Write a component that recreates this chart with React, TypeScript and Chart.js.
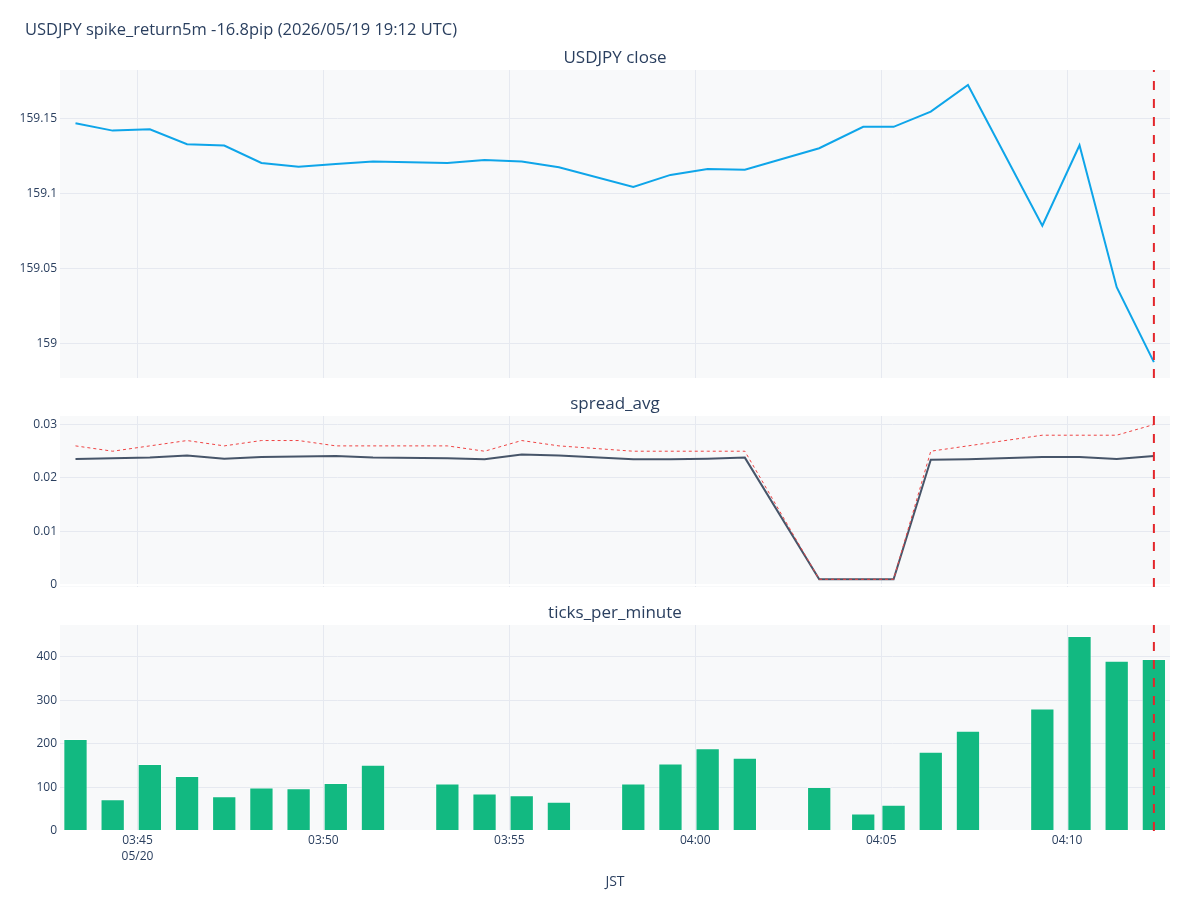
import React, { useEffect, useRef } from 'react';
import { Chart, registerables } from 'chart.js';

Chart.register(...registerables);

// ---------- data ----------
const MAIN_TITLE = 'USDJPY spike_return5m -16.8pip (2026/05/19 19:12 UTC)';
const PANEL_TITLES = ['USDJPY close', 'spread_avg', 'ticks_per_minute'];
const X_TITLE = 'JST';
const SPIKE_TIME = '04:12:20';
const X_RANGE = ['03:42:55', '04:12:46'];

const times = [
  '03:43:20', '03:44:20', '03:45:20', '03:46:20', '03:47:20', '03:48:20', '03:49:20',
  '03:50:20', '03:51:20', '03:53:20', '03:54:20', '03:55:20', '03:56:20', '03:58:20',
  '03:59:20', '04:00:20', '04:01:20', '04:03:20', '04:04:31', '04:05:20', '04:06:20',
  '04:07:20', '04:09:20', '04:10:20', '04:11:20', '04:12:20',
];

const closeValues = [
  159.1471, 159.1422, 159.1431, 159.1331, 159.1322, 159.1206, 159.1181,
  159.1199, 159.1215, 159.1205, 159.1226, 159.1216, 159.1177, 159.1046,
  159.1126, 159.1166, 159.1161, 159.1304, 159.1447, 159.1447, 159.1549,
  159.1727, 159.0787, 159.1324, 159.0376, 158.9875,
];

const spreadAvg = [
  0.02355, 0.0237, 0.0238, 0.0242, 0.0236, 0.0239, 0.024,
  0.0241, 0.0238, 0.0237, 0.0235, 0.0244, 0.0242, 0.0235,
  0.0235, 0.0236, 0.0238, 0.001, 0.001, 0.001, 0.0234,
  0.0235, 0.0239, 0.0239, 0.02355, 0.0241,
];

const spreadMax = [
  0.026, 0.025, 0.026, 0.027, 0.026, 0.027, 0.027,
  0.026, 0.026, 0.026, 0.025, 0.027, 0.026, 0.025,
  0.025, 0.025, 0.025, 0.001, 0.001, 0.001, 0.025,
  0.026, 0.028, 0.028, 0.028, 0.03,
];

const ticksPerMinute = [
  211, 73, 154, 126, 80, 100, 98,
  110, 152, 109, 86, 82, 67, 109,
  155, 190, 168, 101, 40, 60, 182,
  230, 281, 448, 391, 395,
];

const xTickTimes = ['03:45', '03:50', '03:55', '04:00', '04:05', '04:10'];
const xTickLabels: (string | string[])[] = [['03:45', '05/20'], '03:50', '03:55', '04:00', '04:05', '04:10'];

const closeTicks = [159, 159.05, 159.1, 159.15];
const closeTickLabels = ['159', '159.05', '159.1', '159.15'];
const closeRange = [158.9769, 159.1827];

const spreadTicks = [0, 0.01, 0.02, 0.03];
const spreadTickLabels = ['0', '0.01', '0.02', '0.03'];
const spreadRange = [-0.00045, 0.0316];

const tpmTicks = [0, 100, 200, 300, 400];
const tpmTickLabels = ['0', '100', '200', '300', '400'];
const tpmRange = [0, 473];

// ---------- styling ----------
const FONT = "'Open Sans', verdana, arial, sans-serif";
const TEXT_COLOR = '#2a3f5f';
const GRID_COLOR = '#e6e9f0';
const PLOT_BG = '#f8f9fa';
const W = 1200;
const H = 900;
const PANELS = [
  { top: 70, bottom: 378 },
  { top: 416, bottom: 587 },
  { top: 625, bottom: 831 },
];
const PLOT_LEFT = 60;
const PLOT_RIGHT = 1170;
const X_AXIS_H = 59;

const toMin = (s: string) => {
  const p = s.split(':').map(Number);
  return (p[0] - 3) * 60 + p[1] + (p[2] || 0) / 60;
};

const xs = times.map(toMin);
const pts = (vals: number[]) => vals.map((v, i) => ({ x: xs[i], y: v }));

const panelPlugin = (idx: number) => ({
  id: 'panel' + idx,
  beforeDraw(chart: any) {
    const { ctx, chartArea: a } = chart;
    ctx.save();
    ctx.fillStyle = PLOT_BG;
    ctx.fillRect(a.left, a.top, a.right - a.left, a.bottom - a.top);
    ctx.restore();
  },
  afterDatasetsDraw(chart: any) {
    const { ctx, chartArea: a } = chart;
    const px = chart.scales.x.getPixelForValue(toMin(SPIKE_TIME));
    ctx.save();
    ctx.beginPath();
    ctx.rect(a.left, a.top, a.right - a.left, a.bottom - a.top);
    ctx.clip();
    ctx.strokeStyle = '#e3262b';
    ctx.lineWidth = 2;
    ctx.setLineDash([9, 9]);
    ctx.beginPath();
    ctx.moveTo(px, a.bottom);
    ctx.lineTo(px, a.top);
    ctx.stroke();
    ctx.restore();
  },
  afterDraw(chart: any) {
    const { ctx, chartArea: a } = chart;
    ctx.save();
    ctx.fillStyle = TEXT_COLOR;
    ctx.font = `17px ${FONT}`;
    ctx.textAlign = 'center';
    ctx.textBaseline = 'alphabetic';
    ctx.fillText(PANEL_TITLES[idx], (a.left + a.right) / 2, a.top - 7.5);
    if (idx === 0) {
      ctx.font = `16.5px ${FONT}`;
      ctx.textAlign = 'left';
      ctx.fillText(MAIN_TITLE, 25, 35);
    }
    ctx.restore();
  },
});

const gridColor = (c: any) => (c.tick && c.tick.value === 0 ? '#ffffff' : GRID_COLOR);
const gridWidth = (c: any) => (c.tick && c.tick.value === 0 ? 2 : 1);

function makeOptions(idx: number, yTicks: number[], yLabels: string[], yRange: number[]) {
  const bottom = idx === 2;
  const panel = PANELS[idx];
  const xAxisH = bottom ? X_AXIS_H : 0;
  return {
    responsive: false,
    animation: false,
    devicePixelRatio: 1,
    layout: {
      padding: { left: 0, right: W - PLOT_RIGHT, top: panel.top, bottom: H - panel.bottom - xAxisH },
    },
    plugins: { legend: { display: false }, tooltip: { enabled: false }, title: { display: false } },
    scales: {
      x: {
        type: 'linear',
        bounds: 'data',
        offset: false,
        min: toMin(X_RANGE[0]),
        max: toMin(X_RANGE[1]),
        afterBuildTicks: (s: any) => {
          s.ticks = xTickTimes.map((t) => ({ value: toMin(t) }));
        },
        afterFit: (s: any) => {
          s.height = xAxisH;
        },
        border: { display: false },
        grid: { color: GRID_COLOR, lineWidth: 1, drawTicks: false, offset: false },
        ticks: {
          display: bottom,
          autoSkip: false,
          maxRotation: 0,
          padding: 1,
          color: TEXT_COLOR,
          font: { family: FONT, size: 12, lineHeight: 1.35 },
          callback: (_v: any, i: number) => xTickLabels[i],
        },
        title: {
          display: bottom,
          text: X_TITLE,
          color: TEXT_COLOR,
          padding: 0,
          font: { family: FONT, size: 14, lineHeight: 1.2 },
        },
      },
      y: {
        type: 'linear',
        bounds: 'data',
        min: yRange[0],
        max: yRange[1],
        afterBuildTicks: (s: any) => {
          s.ticks = yTicks.map((v) => ({ value: v }));
        },
        afterFit: (s: any) => {
          s.width = PLOT_LEFT;
        },
        border: { display: false },
        grid: { color: gridColor, lineWidth: gridWidth, drawTicks: false },
        ticks: {
          padding: 3,
          color: TEXT_COLOR,
          font: { family: FONT, size: 12 },
          callback: (_v: any, i: number) => yLabels[i],
        },
      },
    },
  } as any;
}

function useChart(ref: React.RefObject<HTMLCanvasElement | null>, build: () => any) {
  useEffect(() => {
    if (!ref.current) return;
    const chart = new Chart(ref.current, build());
    return () => chart.destroy();
  }, []);
}

const canvasStyle: React.CSSProperties = { position: 'absolute', left: 0, top: 0, width: W, height: H };

export default function App() {
  const c1 = useRef<HTMLCanvasElement>(null);
  const c2 = useRef<HTMLCanvasElement>(null);
  const c3 = useRef<HTMLCanvasElement>(null);

  useChart(c1, () => ({
    type: 'line',
    data: {
      datasets: [
        {
          data: pts(closeValues),
          borderColor: '#0ea5e9',
          borderWidth: 2,
          pointRadius: 0,
          tension: 0,
          fill: false,
        },
      ],
    },
    options: makeOptions(0, closeTicks, closeTickLabels, closeRange),
    plugins: [panelPlugin(0)],
  }));

  useChart(c2, () => ({
    type: 'line',
    data: {
      datasets: [
        {
          data: pts(spreadMax),
          borderColor: '#ef4444',
          borderWidth: 1,
          borderDash: [3, 3],
          pointRadius: 0,
          tension: 0,
          fill: false,
        },
        {
          data: pts(spreadAvg),
          borderColor: '#475569',
          borderWidth: 2,
          pointRadius: 0,
          tension: 0,
          fill: false,
        },
      ],
    },
    options: makeOptions(1, spreadTicks, spreadTickLabels, spreadRange),
    plugins: [panelPlugin(1)],
  }));

  useChart(c3, () => ({
    type: 'bar',
    data: {
      datasets: [
        {
          data: pts(ticksPerMinute),
          backgroundColor: '#12b981',
          borderColor: 'rgba(255,255,255,0.45)',
          borderWidth: 1,
          barPercentage: 1,
          categoryPercentage: 0.8,
        },
      ],
    },
    options: makeOptions(2, tpmTicks, tpmTickLabels, tpmRange),
    plugins: [panelPlugin(2)],
  }));

  return (
    <div style={{ position: 'absolute', left: 0, top: 0, width: W, height: H, background: '#ffffff' }}>
      <canvas ref={c1} width={W} height={H} style={canvasStyle} />
      <canvas ref={c2} width={W} height={H} style={canvasStyle} />
      <canvas ref={c3} width={W} height={H} style={canvasStyle} />
    </div>
  );
}
